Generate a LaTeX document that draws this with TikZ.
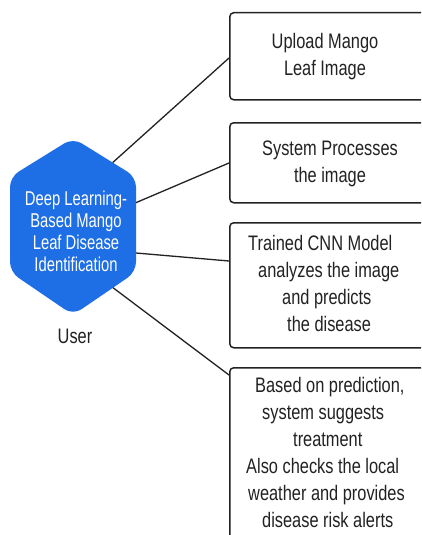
\documentclass[tikz,border=0pt]{standalone}
\usepackage{fontspec}
\setmainfont{Liberation Sans}[FakeStretch=0.78]
\newfontfamily\hexfont{Liberation Sans}[FakeStretch=0.74]
\usetikzlibrary{calc}
\definecolor{hexblue}{RGB}{30,110,230}
\definecolor{ink}{RGB}{34,34,34}

\begin{document}
\begin{tikzpicture}[x=1pt,y=-1pt,
  stepbox/.style={draw=ink, line width=1.5pt, rounded corners=4pt,
    anchor=north west, inner sep=0pt, minimum width=230pt},
  boxtext/.style={inner sep=0pt, text=ink, font=\fontsize{21}{27}\selectfont},
  hextext/.style={inner sep=0pt, text=white, align=center,
    font=\hexfont\fontsize{20}{22}\selectfont},
  link/.style={draw=ink, line width=1.3pt},
]
\useasboundingbox (0,0) rectangle (421,535);
\fill[white] (0,0) rectangle (421,535);
\clip (0,0) rectangle (421,535);

% tall hexagon with pointed top and bottom
\coordinate (hT)  at (73,138);
\coordinate (hUR) at (136,177);
\coordinate (hLR) at (136,272);
\coordinate (hB)  at (73,315);
\coordinate (hLL) at (10,272);
\coordinate (hUL) at (10,177);
\fill[hexblue, rounded corners=10pt]
  (hT) -- (hUR) -- (hLR) -- (hB) -- (hLL) -- (hUL) -- cycle;
\node[hextext, anchor=north] (hexlabel) at (76,189.6)
  {\strut Deep Learning-\\Based Mango\\Leaf Disease\\Identification};
\node[boxtext, anchor=base] (user) at (75,343) {User};

% step boxes (running off the right edge)
\node[stepbox, minimum height=87pt]  (b1) at (229,12)  {};
\node[stepbox, minimum height=80pt]  (b2) at (229,122) {};
\node[stepbox, minimum height=125pt] (b3) at (229,222) {};
\node[stepbox, minimum height=200pt] (b4) at (229,367) {};

\node[boxtext, align=center, anchor=north] (t1) at (325,29.1)
  {\strut Upload Mango\\Leaf Image};
\node[boxtext, align=center, anchor=north] (t2) at (330,136.1)
  {\strut System Processes\\the image};
\node[boxtext, align=left, anchor=north west] (t3) at (248,231.1)
  {\strut Trained CNN Model\\
   \hspace*{10pt}analyzes the image\\
   \hspace*{34pt}and predicts\\
   \hspace*{39pt}the disease};
\node[boxtext, align=left, anchor=north west] (t4) at (246,373.1)
  {\strut\hspace*{9pt}Based on prediction,\\
   \hspace*{16pt}system suggests\\
   \hspace*{47pt}treatment\\
   Also checks the local\\
   \hspace*{2pt}weather and provides\\
   \hspace*{16pt}disease risk alerts};

% connectors from the hexagon to each step
\draw[link] ($(hT)!0.63!(hUR)$)   -- ([yshift=-46pt]b1.north west);
\draw[link] ($(hUR)!0.27!(hLR)$)  -- ([yshift=-41pt]b2.north west);
\draw[link] ($(hUR)!0.8!(hLR)$)   -- ([yshift=-39pt]b3.north west);
\draw[link] ($(hLR)!0.365!(hB)$)  -- ([yshift=-8pt]b4.north west);
\end{tikzpicture}
\end{document}
